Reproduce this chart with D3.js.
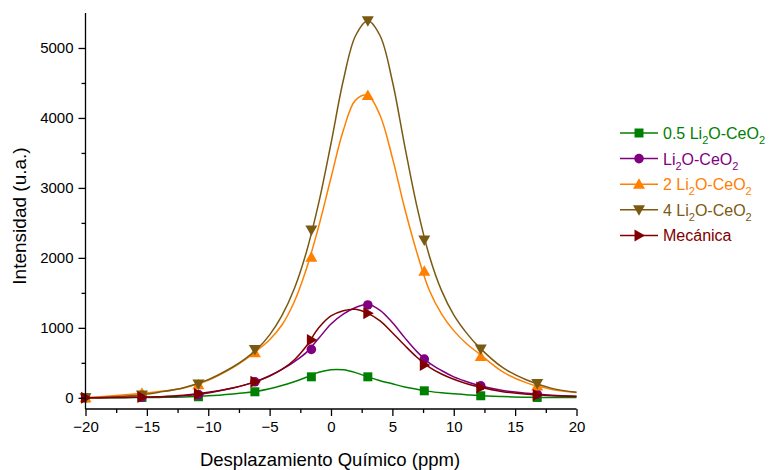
<!DOCTYPE html>
<html>
<head>
<meta charset="utf-8">
<script src="https://cdn.jsdelivr.net/npm/d3@7/dist/d3.min.js"></script>
<style>
  html, body { margin: 0; padding: 0; background: #fff; }
  svg { display: block; font-family: "Liberation Sans", Arial, sans-serif; }
</style>
</head>
<body>
<svg id="chart" width="770" height="470"></svg>
<script>
// Fitted curve samples (chemical shift, ppm)
const curveX = [-20, -18, -16, -14, -12, -10, -8, -7, -6, -5, -4, -3, -2, -1, 0, 1, 2, 3, 4, 5, 6, 7, 8, 9, 10, 11, 12, 14, 16, 18, 20];
const curveGreen    = [0, 1, 3, 6, 12, 28, 55, 72, 95, 130, 175, 230, 295, 365, 402, 400, 360, 300, 245, 200, 155, 122, 92, 72, 57, 45, 32, 18, 8, 5, 4];
const curvePurple   = [0, 3, 8, 14, 28, 70, 140, 185, 240, 315, 405, 515, 650, 850, 1055, 1195, 1290, 1338, 1250, 1075, 860, 660, 500, 390, 300, 235, 180, 105, 65, 38, 22];
const curveOrange   = [0, 25, 55, 90, 140, 250, 430, 545, 680, 830, 1040, 1370, 1845, 2450, 3145, 3820, 4255, 4320, 4035, 3430, 2710, 2075, 1540, 1200, 960, 780, 640, 370, 210, 120, 75];
const curveBrown    = [0, 12, 32, 80, 145, 260, 440, 555, 700, 900, 1175, 1555, 2085, 2785, 3635, 4535, 5175, 5390, 5175, 4525, 3605, 2735, 2035, 1535, 1185, 935, 735, 430, 250, 135, 80];
const curveMecanica = [0, 3, 8, 16, 35, 78, 140, 185, 240, 310, 405, 540, 740, 1000, 1170, 1245, 1265, 1207, 1100, 930, 750, 580, 440, 340, 265, 205, 158, 88, 50, 28, 18];

// Measured points
const markerX = [-20, -15.4, -10.8, -6.2, -1.6, 3.0, 7.6, 12.2, 16.8];
const markerGreen    = [0, 5, 15, 86, 300, 300, 100, 29, 5];
const markerPurple   = [0, 10, 45, 229, 692, 1327, 554, 172, 53];
const markerOrange   = [0, 65, 185, 645, 2010, 4320, 1810, 590, 167];
const markerBrown    = [0, 40, 196, 692, 2400, 5390, 2254, 697, 206];
const markerMecanica = [0, 10, 55, 229, 826, 1207, 468, 148, 39];

// Axis ticks
const xTicks = [-20, -15, -10, -5, 0, 5, 10, 15, 20];
const xMinorTicks = [-17.5, -12.5, -7.5, -2.5, 2.5, 7.5, 12.5, 17.5];
const yTicks = [0, 1000, 2000, 3000, 4000, 5000];
const yMinorTicks = [500, 1500, 2500, 3500, 4500];

const seriesNames = ["0.5 Li2O-CeO2", "Li2O-CeO2", "2 Li2O-CeO2", "4 Li2O-CeO2", "Mecánica"];
const seriesColors = ["#008000", "#800080", "#ff8000", "#7a5a12", "#800000"];
const seriesSymbols = ["square", "circle", "triUp", "triDown", "triRight"];

const series = [
  { curve: curveGreen, marks: markerGreen },
  { curve: curvePurple, marks: markerPurple },
  { curve: curveOrange, marks: markerOrange },
  { curve: curveBrown, marks: markerBrown },
  { curve: curveMecanica, marks: markerMecanica }
].map((s, i) => ({ ...s, name: seriesNames[i], color: seriesColors[i], symbol: seriesSymbols[i] }));

const svg = d3.select("#chart");
const x = d3.scaleLinear().domain([-20, 20]).range([85.5, 576.5]);
const y = d3.scaleLinear().domain([-160, 5500]).range([409, 13]);

// symbol path generator centred on (0,0)
function symbolPath(kind) {
  switch (kind) {
    case "square": return "M-4.5,-4.5H4.5V4.5H-4.5Z";
    case "circle": return d3.symbol(d3.symbolCircle, 72)();
    case "triUp": return "M0,-6L6,4.5H-6Z";
    case "triDown": return "M0,6L6,-4.5H-6Z";
    case "triRight": return "M6,0L-4.5,-6V6Z";
  }
}

const line = d3.line()
  .x((d, i) => x(curveX[i]))
  .y(d => y(d))
  .curve(d3.curveCatmullRom.alpha(0.5));

const plot = svg.append("g");
series.forEach(s => {
  const g = plot.append("g");
  g.append("path")
    .attr("d", line(s.curve))
    .attr("fill", "none")
    .attr("stroke", s.color)
    .attr("stroke-width", 1.5);
  g.selectAll("path.mk")
    .data(s.marks)
    .join("path")
    .attr("class", "mk")
    .attr("d", symbolPath(s.symbol))
    .attr("transform", (d, i) => `translate(${x(markerX[i])},${y(d)})`)
    .attr("fill", s.color);
});

// Axes
const xAxis = svg.append("g").attr("transform", "translate(0,409)")
  .call(d3.axisBottom(x).tickValues(xTicks).tickSize(7).tickPadding(5).tickFormat(d3.format("d")));
svg.append("g").attr("transform", "translate(0,409)")
  .call(d3.axisBottom(x).tickValues(xMinorTicks).tickSize(4).tickFormat(""))
  .select(".domain").remove();
const yAxis = svg.append("g").attr("transform", "translate(85.5,0)")
  .call(d3.axisLeft(y).tickValues(yTicks).tickSize(7).tickPadding(5).tickFormat(d3.format("d")));
svg.append("g").attr("transform", "translate(85.5,0)")
  .call(d3.axisLeft(y).tickValues(yMinorTicks).tickSize(4).tickFormat(""))
  .select(".domain").remove();

xAxis.select(".domain").attr("d", `M${x(-20)},0H${x(20)}`);
yAxis.select(".domain").attr("d", `M0,${y(5500)}V${y(-160)}`);
svg.selectAll(".tick line, .domain").attr("stroke", "#000").attr("stroke-width", 1.3);
svg.selectAll(".tick text")
  .attr("font-family", "'Liberation Sans', Arial, sans-serif")
  .attr("font-size", 15)
  .attr("fill", "#000");

// Axis titles
svg.append("text")
  .attr("x", 330).attr("y", 466)
  .attr("text-anchor", "middle")
  .attr("font-size", 18.5)
  .attr("fill", "#000")
  .text("Desplazamiento Químico (ppm)");
svg.append("text")
  .attr("transform", "translate(26,216) rotate(-90)")
  .attr("text-anchor", "middle")
  .attr("font-size", 19)
  .attr("fill", "#000")
  .text("Intensidad (u.a.)");

// Legend
const legend = svg.append("g").attr("transform", "translate(620,133)");
series.forEach((s, i) => {
  const row = legend.append("g").attr("transform", `translate(0,${i * 25.6})`);
  row.append("line").attr("x1", 0).attr("x2", 38).attr("y1", 0).attr("y2", 0)
    .attr("stroke", s.color).attr("stroke-width", 1.5);
  row.append("path").attr("d", symbolPath(s.symbol))
    .attr("transform", "translate(19,0)").attr("fill", s.color);
  const t = row.append("text").attr("x", 43).attr("y", 6)
    .attr("font-size", 16).attr("fill", s.color);
  // the "2" after Li and CeO is drawn as a subscript
  const parts = s.name.split(/(?<=Li|CeO)(2)/);
  let lowered = false;
  parts.forEach((p, k) => {
    if (!p) return;
    const ts = t.append("tspan").text(p);
    if (k % 2 === 1) {
      ts.attr("dy", 5).attr("font-size", 11);
      lowered = true;
    } else if (lowered) {
      ts.attr("dy", -5);
      lowered = false;
    }
  });
});
</script>
</body>
</html>
